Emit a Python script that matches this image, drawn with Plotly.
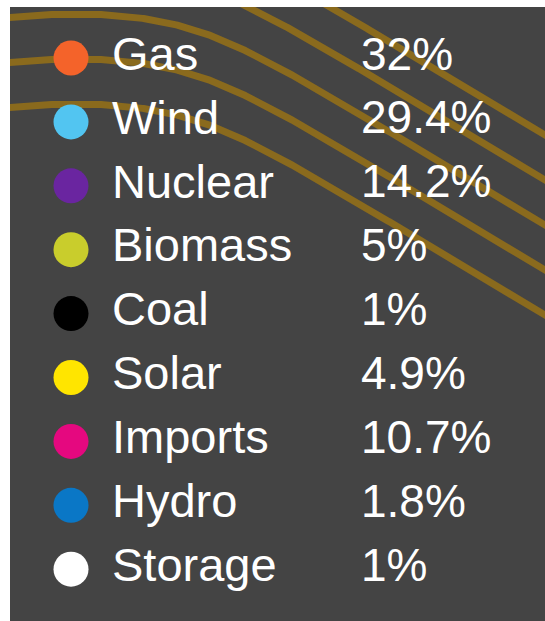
import numpy as np
import plotly.graph_objects as go

# ---- data ----
categories = ["Gas", "Wind", "Nuclear", "Biomass", "Coal", "Solar", "Imports", "Hydro", "Storage"]
shares = [32, 29.4, 14.2, 5, 1, 4.9, 10.7, 1.8, 1]
colors = ["#F4632A", "#52C5F1", "#6A25A0", "#C9CD2C", "#000000",
          "#FFE500", "#E5087F", "#0A77C6", "#FFFFFF"]
share_labels = [f"{v:g}%" for v in shares]

# ---- layout constants (pixel space) ----
W, H = 545, 621
LEFT, TOP = 10, 7
ROW0, STEP = 58, 63.9
BG = "#444444"
ARC = "#8A6A1D"
FONT = "Liberation Sans, Arial, Helvetica, sans-serif"

rows_y = [ROW0 + i * STEP for i in range(len(categories))]

fig = go.Figure()

# decorative golden curves (background ornament)
xs = np.linspace(0, 560, 500)
base = (-78 + 0.0005 * np.clip(110 - xs, 0, None) ** 2
        + 24 * np.log1p(np.exp((xs - 190) / 40)))
for k in range(5):
    fig.add_trace(go.Scatter(
        x=xs, y=base + 45 * k, mode="lines",
        line=dict(color=ARC, width=7),
        hoverinfo="skip", showlegend=False))

# colour dots
fig.add_trace(go.Scatter(
    x=[71] * len(categories), y=rows_y, mode="markers",
    marker=dict(size=35, color=colors, line=dict(width=0)),
    hoverinfo="skip", showlegend=False))

# category names
fig.add_trace(go.Scatter(
    x=[112] * len(categories), y=rows_y, mode="text", text=categories,
    textposition="middle right",
    textfont=dict(family=FONT, size=47, color="white"),
    hoverinfo="skip", showlegend=False))

# percentage values
fig.add_trace(go.Scatter(
    x=[361] * len(categories), y=rows_y, mode="text", text=share_labels,
    textposition="middle right",
    textfont=dict(family=FONT, size=46, color="white"),
    hoverinfo="skip", showlegend=False))

fig.update_layout(
    width=W, height=H,
    margin=dict(l=LEFT, t=TOP, r=0, b=0, pad=0),
    paper_bgcolor="white", plot_bgcolor=BG,
    xaxis=dict(range=[LEFT, W], visible=False, fixedrange=True),
    yaxis=dict(range=[H, TOP], visible=False, fixedrange=True),
    showlegend=False,
)

fig.write_html("out.html", config={"displayModeBar": False},
               post_script="document.body.style.margin='0';document.body.style.overflow='hidden';")
